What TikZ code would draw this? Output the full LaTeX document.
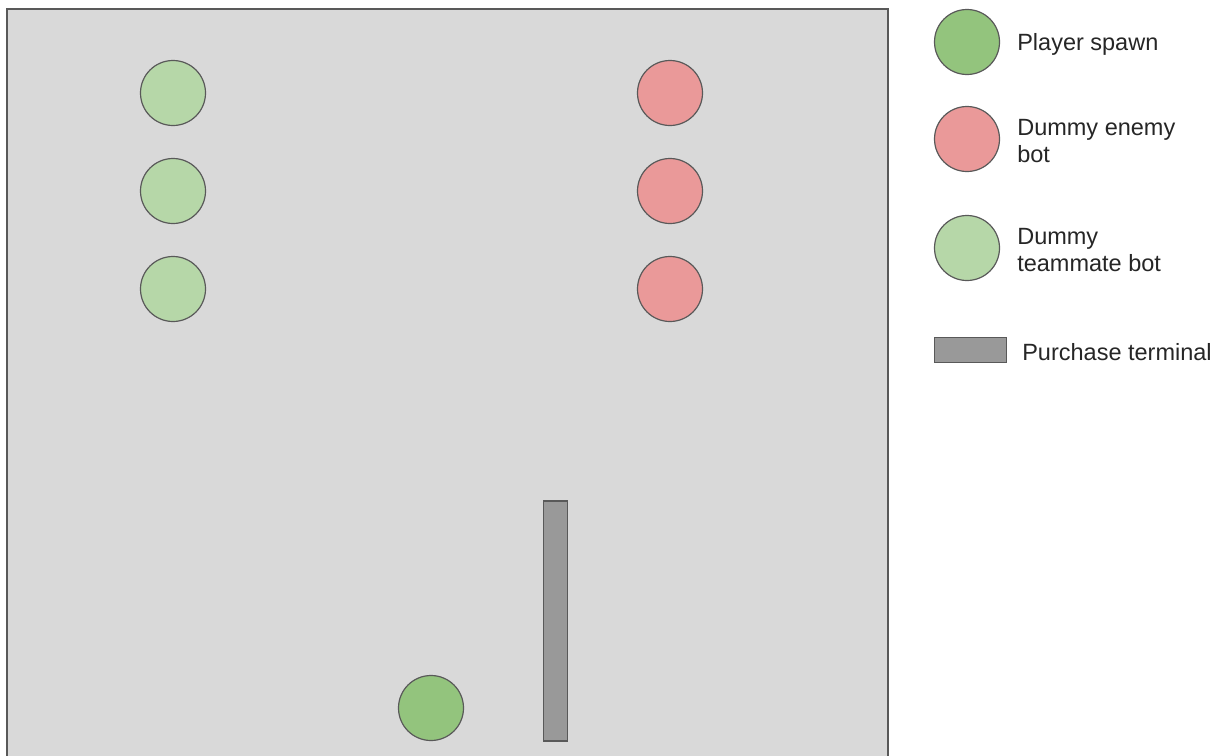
\documentclass[tikz,border=0pt]{standalone}
\usepackage{fontspec}
\setmainfont{Liberation Sans}
\usepackage{tikz}
\usetikzlibrary{positioning}
\definecolor{floorgray}{HTML}{D9D9D9}
\definecolor{edgegray}{HTML}{595959}
\definecolor{spawngreen}{HTML}{93C47D}
\definecolor{mategreen}{HTML}{B6D7A8}
\definecolor{enemyred}{HTML}{EA9999}
\definecolor{termgray}{HTML}{999999}

\begin{document}
\begin{tikzpicture}[x=1pt, y=-1pt,
    bot/.style={circle, draw=edgegray, line width=1.2pt, minimum size=65pt, inner sep=0pt},
    legtext/.style={align=left, inner sep=2pt, text=black!85, yshift=-2pt, font=\fontsize{23.5}{27}\selectfont}]
    \clip (0,0) rectangle (1223,755);
    \fill[white] (0,0) rectangle (1223,755);

    % Map floor
    \draw[fill=floorgray, draw=edgegray, line width=1.5pt] (7,9) rectangle (888,775);

    % Teammate bots
    \node (mate1) [bot, fill=mategreen] at (173,93) {};
    \node (mate2) [bot, fill=mategreen] at (173,191) {};
    \node (mate3) [bot, fill=mategreen] at (173,289) {};

    % Enemy bots
    \node (enemy1) [bot, fill=enemyred] at (670,93) {};
    \node (enemy2) [bot, fill=enemyred] at (670,191) {};
    \node (enemy3) [bot, fill=enemyred] at (670,289) {};

    % Spawn and terminal
    \node (spawn) [bot, fill=spawngreen] at (431,708) {};
    \node (term) [rectangle, draw=edgegray, fill=termgray, line width=1.2pt, minimum width=24pt, minimum height=240pt, inner sep=0pt] at (555.5,621) {};

    % Legend
    \node (legspawn) [bot, fill=spawngreen] at (967,42) {};
    \node (legspawntxt) [legtext, right=15pt of legspawn] {Player spawn};
    \node (legenemy) [bot, fill=enemyred] at (967,139) {};
    \node (legenemytxt) [legtext, right=15pt of legenemy] {Dummy enemy\\bot};
    \node (legmate) [bot, fill=mategreen] at (967,248) {};
    \node (legmatetxt) [legtext, right=15pt of legmate] {Dummy\\teammate bot};
    \node (legterm) [rectangle, draw=edgegray, fill=termgray, line width=1.2pt, minimum width=72pt, minimum height=25pt, inner sep=0pt] at (970.5,350) {};
    \node (legtermtxt) [legtext, right=13pt of legterm] {Purchase terminal};
\end{tikzpicture}
\end{document}
